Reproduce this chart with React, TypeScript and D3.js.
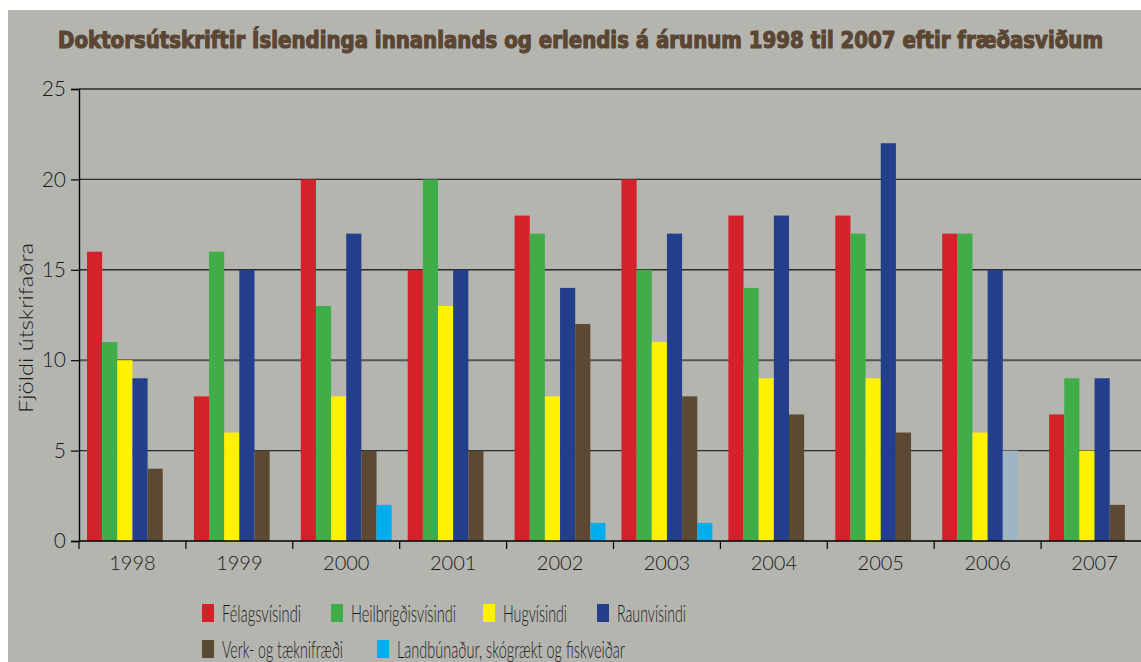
import React, { useRef, useEffect } from 'react';
import * as d3 from 'd3';

// Gögn lesin af myndinni
const years = ['1998', '1999', '2000', '2001', '2002', '2003', '2004', '2005', '2006', '2007'];
const seriesNames = [
  'Félagsvísindi',
  'Heilbrigðisvísindi',
  'Hugvísindi',
  'Raunvísindi',
  'Verk- og tæknifræði',
  'Landbúnaður, skógrækt og fiskveiðar',
];
const felagsvisindi = [16, 8, 20, 15, 18, 20, 18, 18, 17, 7];
const heilbrigdisvisindi = [11, 16, 13, 20, 17, 15, 14, 17, 17, 9];
const hugvisindi = [10, 6, 8, 13, 8, 11, 9, 9, 6, 5];
const raunvisindi = [9, 15, 17, 15, 14, 17, 18, 22, 15, 9];
const verkOgTaekni = [4, 5, 5, 5, 12, 8, 7, 6, 5, 2];
const landbunadur = [0, 0, 2, 0, 1, 1, 0, 0, 0, 0];
const yTicks = [0, 5, 10, 15, 20, 25];

const seriesValues = [felagsvisindi, heilbrigdisvisindi, hugvisindi, raunvisindi, verkOgTaekni, landbunadur];
const colors = ['#d3222a', '#41ad49', '#fff200', '#233e8b', '#5b4934', '#00aeef'];
// 2006 súlan í Verk- og tæknifræði er ljósgrá-blá á frummyndinni
const oddBar = { series: 4, year: '2006', color: '#9fb5c4' };

const App = () => {
  const svgRef = useRef<SVGSVGElement>(null);

  useEffect(() => {
    if (!svgRef.current) return;
    const svg = d3.select(svgRef.current);
    svg.selectAll('*').remove();

    const width = 1141;
    const height = 662;
    const font = 'Lato, "Noto Sans", sans-serif';

    svg.attr('width', width).attr('height', height);

    svg.append('rect')
      .attr('x', 8).attr('y', 10)
      .attr('width', width - 8).attr('height', height - 10)
      .attr('fill', '#b5b5b0');

    // Titill: þykkur og þjappaður
    svg.append('text')
      .attr('x', 58).attr('y', 48)
      .attr('font-family', '"DejaVu Sans Condensed", Lato, sans-serif')
      .attr('font-weight', 'bold')
      .attr('font-size', 23)
      .attr('fill', '#5a4632')
      .attr('stroke', '#5a4632')
      .attr('stroke-width', 1.1)
      .attr('textLength', 1045)
      .attr('lengthAdjust', 'spacingAndGlyphs')
      .text('Doktorsútskriftir Íslendinga innanlands og erlendis á árunum 1998 til 2007 eftir fræðasviðum');

    const left = 79;
    const band = 106.9;
    const x = d3.scaleBand<string>()
      .domain(years)
      .range([left, left + band * years.length])
      .padding(0);

    const xInner = d3.scaleBand<number>()
      .domain(d3.range(seriesNames.length))
      .range([8, band - 8])
      .padding(0);

    const y = d3.scaleLinear().domain([0, 25]).range([541, 89]);

    // Rúðunet
    const grid = svg.append('g');
    grid.selectAll('line')
      .data(yTicks.filter(t => t > 0))
      .enter()
      .append('line')
      .attr('x1', left).attr('x2', width)
      .attr('y1', d => y(d)).attr('y2', d => y(d))
      .attr('stroke', d => (d === 10 ? '#555' : '#2a2a2a'))
      .attr('stroke-width', d => (d === 10 ? 2 : 1.4));

    // Súlur
    seriesValues.forEach((vals, si) => {
      svg.append('g')
        .selectAll('rect')
        .data(vals.map((v, i) => ({ v, year: years[i] })))
        .enter()
        .filter(d => d.v > 0)
        .append('rect')
        .attr('x', d => x(d.year)! + xInner(si)!)
        .attr('y', d => y(d.v))
        .attr('width', xInner.bandwidth())
        .attr('height', d => y(0) - y(d.v))
        .attr('fill', d => (si === oddBar.series && d.year === oddBar.year ? oddBar.color : colors[si]));
    });

    // Y-ás
    const yAxis = d3.axisLeft(y).tickValues(yTicks).tickSize(8).tickPadding(5);
    const yg = svg.append('g').attr('transform', `translate(${left},0)`).call(yAxis);
    yg.select('.domain').attr('stroke', '#000').attr('stroke-width', 1.4);
    yg.selectAll('.tick line').attr('stroke', '#000').attr('stroke-width', 1.2);
    yg.selectAll('.tick text')
      .attr('fill', '#1a1a1a')
      .attr('font-family', font)
      .attr('font-weight', 300)
      .attr('font-size', 21);

    // X-ás
    svg.append('line')
      .attr('x1', left).attr('x2', width)
      .attr('y1', y(0)).attr('y2', y(0))
      .attr('stroke', '#000').attr('stroke-width', 1.6);

    svg.append('g')
      .selectAll('line')
      .data(years)
      .enter()
      .append('line')
      .attr('x1', d => x(d)!).attr('x2', d => x(d)!)
      .attr('y1', y(0)).attr('y2', y(0) + 8)
      .attr('stroke', '#000').attr('stroke-width', 1.2);

    svg.append('g')
      .selectAll('text')
      .data(years)
      .enter()
      .append('text')
      .attr('x', d => x(d)! + band / 2)
      .attr('y', 570)
      .attr('text-anchor', 'middle')
      .attr('font-family', font)
      .attr('font-weight', 300)
      .attr('font-size', 20)
      .attr('fill', '#1a1a1a')
      .text(d => d);

    svg.append('text')
      .attr('transform', 'translate(33,328) rotate(-90)')
      .attr('text-anchor', 'middle')
      .attr('font-family', font)
      .attr('font-weight', 300)
      .attr('font-size', 20)
      .attr('fill', '#1a1a1a')
      .attr('textLength', 170)
      .attr('lengthAdjust', 'spacingAndGlyphs')
      .text('Fjöldi útskrifaðra');

    // Skýringar
    const legendPos = [
      { x: 202, y: 604, w: 79 },
      { x: 331, y: 604, w: 105 },
      { x: 483, y: 604, w: 64 },
      { x: 597, y: 604, w: 69 },
      { x: 202, y: 640, w: 121 },
      { x: 377, y: 640, w: 228 },
    ];
    const lg = svg.append('g')
      .selectAll('g')
      .data(seriesNames)
      .enter()
      .append('g')
      .attr('transform', (d, i) => `translate(${legendPos[i].x},${legendPos[i].y})`);
    lg.append('rect')
      .attr('width', 12).attr('height', 18)
      .attr('fill', (d, i) => colors[i]);
    lg.append('text')
      .attr('x', 20).attr('y', 17.5)
      .attr('font-family', font)
      .attr('font-weight', 300)
      .attr('font-size', 23)
      .attr('fill', '#1a1a1a')
      .attr('textLength', (d, i) => legendPos[i].w)
      .attr('lengthAdjust', 'spacingAndGlyphs')
      .text(d => d);
  }, []);

  return (
    <svg ref={svgRef} style={{ position: 'absolute', left: 0, top: 0 }}></svg>
  );
};

export default App;
